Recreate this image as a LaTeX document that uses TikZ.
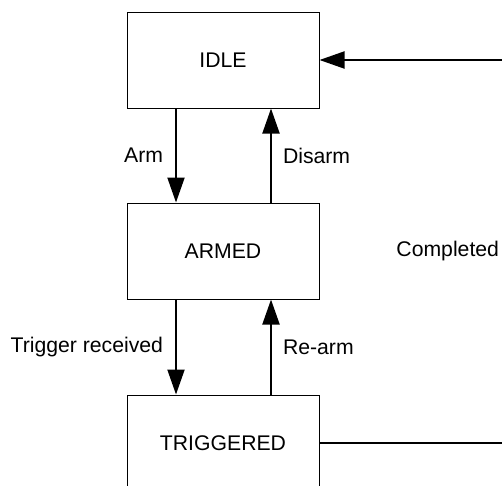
\documentclass[tikz,border=0pt]{standalone}
\usepackage{fontspec}
\setmainfont{Liberation Sans}
\usetikzlibrary{arrows.meta}
\begin{document}
\begin{tikzpicture}[x=1pt,y=-1pt,
    font=\fontsize{21.2}{25}\selectfont,
    state/.style={draw,line width=1pt,minimum width=192pt,minimum height=96pt,inner sep=0pt},
    flow/.style={line width=2pt,-{Triangle[length=25pt,width=17pt]}},
    lbl/.style={inner sep=0pt}]
  \useasboundingbox (0,0) rectangle (502,485);
  \clip (0,0) rectangle (502,485);
  \draw
    (223,60) node[state] (idle){IDLE}
    (223,251) node[state] (armed){ARMED}
    (223,443) node[state] (trig){TRIGGERED};
  \coordinate (rtop) at (511,60);
  \coordinate (rbot) at (511,443);
  \begin{scope}[flow]
    \draw ([xshift=-47pt]idle.south) to node[lbl,left=12pt]{Arm} ([xshift=-47pt]armed.north);
    \draw ([xshift=48pt]armed.north) to node[lbl,right=11pt]{Disarm} ([xshift=48pt]idle.south);
    \draw ([xshift=-47pt]armed.south) to node[lbl,left=12pt]{Trigger received} ([xshift=-47pt]trig.north);
    \draw ([xshift=48pt]trig.north) to node[lbl,right=11pt]{Re-arm} ([xshift=48pt]armed.south);
    \draw (trig.east) -- (rbot) -- node[lbl,left=11pt]{Completed} (rtop) -- (idle.east);
  \end{scope}
\end{tikzpicture}
\end{document}
